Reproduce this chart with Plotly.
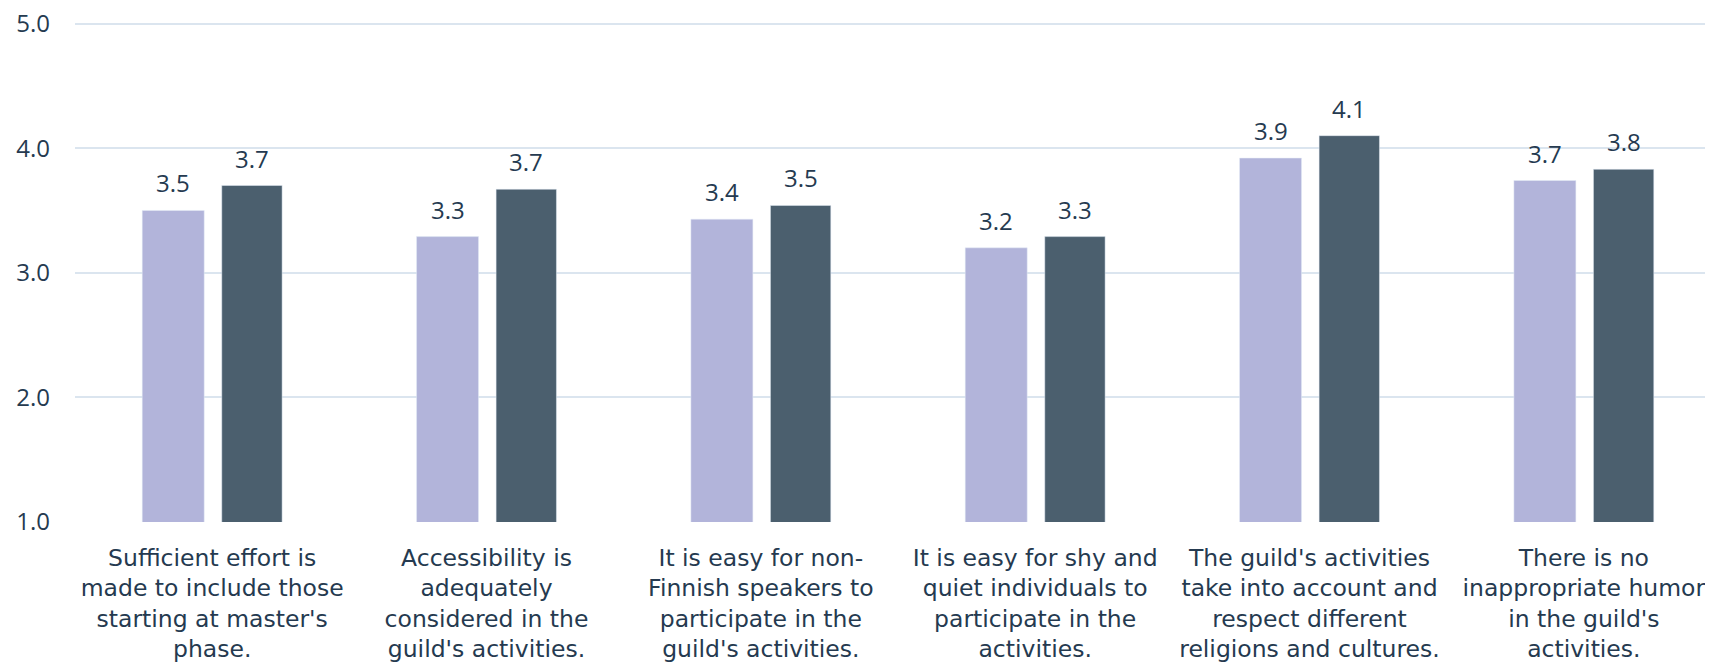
import plotly.graph_objects as go

categories = [
    "Sufficient effort is<br>made to include those<br>starting at master's<br>phase.",
    "Accessibility is<br>adequately<br>considered in the<br>guild's activities.",
    "It is easy for non-<br>Finnish speakers to<br>participate in the<br>guild's activities.",
    "It is easy for shy and<br>quiet individuals to<br>participate in the<br>activities.",
    "The guild's activities<br>take into account and<br>respect different<br>religions and cultures.",
    "There is no<br>inappropriate humor<br>in the guild's<br>activities.",
]
series_a = [3.50, 3.29, 3.43, 3.20, 3.92, 3.74]
series_b = [3.70, 3.67, 3.54, 3.29, 4.10, 3.83]
y_ticks = [1, 2, 3, 4, 5]

TEXT = "#253a50"
NUM_FONT = "Open Sans"
CAT_FONT = "DejaVu Sans"

A_OFF, A_W = -0.255, 0.226
B_OFF, B_W = 0.035, 0.22

fig = go.Figure()
fig.add_trace(go.Bar(
    x=categories, y=series_a,
    marker_color="#b2b4da", width=A_W, offset=A_OFF, showlegend=False,
))
fig.add_trace(go.Bar(
    x=categories, y=series_b,
    marker_color="#4b5f6e", width=B_W, offset=B_OFF, showlegend=False,
))

annotations = []
for i, (a, b) in enumerate(zip(series_a, series_b)):
    for val, off, w in ((a, A_OFF, A_W), (b, B_OFF, B_W)):
        annotations.append(dict(
            x=i + off + w / 2, y=val, xref="x", yref="y",
            text=f"{val:.1f}", showarrow=False,
            xanchor="center", yanchor="bottom", yshift=9,
            font=dict(size=24, color=TEXT, family=NUM_FONT),
        ))

fig.update_layout(
    width=1713, height=662,
    margin=dict(l=67, r=0, t=14, b=148),
    barmode="overlay",
    plot_bgcolor="white", paper_bgcolor="white",
    font=dict(family=NUM_FONT, size=24, color=TEXT),
    annotations=annotations,
)
fig.update_xaxes(
    automargin=False, showline=False, showgrid=False,
    tickfont=dict(size=23.5, color=TEXT, family=CAT_FONT),
    ticks="", ticklabelstandoff=19, ticklabeloverflow="allow",
)
fig.update_yaxes(
    range=[1, 5.012], tickvals=y_ticks, tickformat=".1f",
    showgrid=True, gridcolor="#dbe5ef", gridwidth=2,
    zeroline=False, showline=False, automargin=False,
    tickfont=dict(size=24, color=TEXT, family=NUM_FONT),
    ticks="", ticklabelstandoff=24, ticklabeloverflow="allow",
)

fig.write_html("out.html")
